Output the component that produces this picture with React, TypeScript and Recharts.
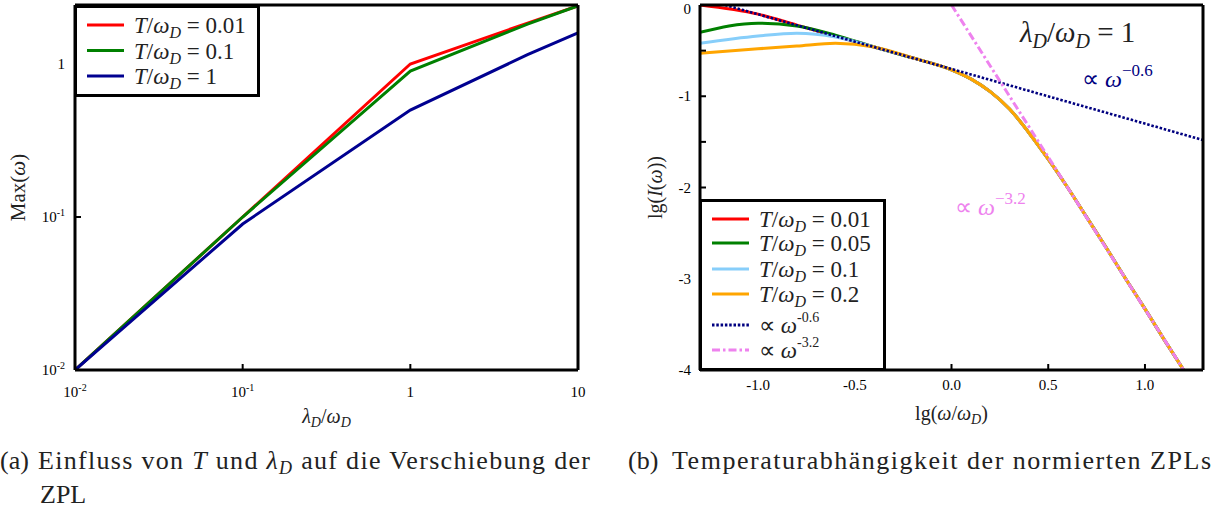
import React from 'react';
import { LineChart, Line, XAxis, YAxis, Legend, Label } from 'recharts';

const SERIF = '"Liberation Serif", "Times New Roman", serif';

// (a) position of the maximum vs. lambda_D / omega_D (log-log)
const lambdaRatio = [0.01, 0.1, 1, 5, 10];
const maxT001 = [0.01, 0.1, 1.0, 1.85, 2.4];
const maxT01 = [0.01, 0.1, 0.9, 1.82, 2.4];
const maxT1 = [0.01, 0.09, 0.5, 1.15, 1.6];
const leftXTicks = [0.01, 0.1, 1, 10];
const leftYTicks = [0.01, 0.1, 1];
const logTickValues = [0.01, 0.1, 1, 10];
const logTickBase = ['10', '10', '1', '10'];
const logTickExp = ['-2', '-1', '', ''];
const leftLegendValues = ['0.01', '0.1', '1'];
const leftColors = ['#ff0000', '#008000', '#000090'];

// (b) normalised ZPL, lg I over lg(omega/omega_D)
const lgOmegaHead = [-1.3, -1.0, -0.8, -0.6];
const lgIHeadT001 = [0.0, -0.1, -0.22, -0.34];
const lgIHeadT005 = [-0.3, -0.2, -0.23, -0.33];
const lgIHeadT01 = [-0.42, -0.34, -0.31, -0.35];
const lgIHeadT02 = [-0.53, -0.48, -0.45, -0.42];
const lgOmegaTail = [-0.4, -0.2, 0.0, 0.1, 0.2, 0.3, 0.4, 0.5, 0.6, 0.7, 0.8, 0.9, 1.0, 1.1, 1.2];
const lgITail = [-0.46, -0.58, -0.71, -0.81, -0.95, -1.14, -1.4, -1.69, -2.0, -2.33, -2.66, -3.0, -3.33, -3.67, -4.0];
const powLawSlowX = [-1.17, 1.3];
const powLawSlowY = [0, -1.48];
const powLawFastX = [0.0, 1.2];
const powLawFastY = [0, -4];
const rightLegendValues = ['0.01', '0.05', '0.1', '0.2'];
const rightColors = ['#ff0000', '#008000', '#87cefa', '#ffa500'];
const powLawExp = ['-0.6', '-3.2'];
const powLawColors = ['#000080', '#ee82ee'];
const rightXTicks = [-1, -0.5, 0, 0.5, 1];
const rightYTicks = [-4, -3.5, -3, -2.5, -2, -1.5, -1, -0.5, 0];

const toPoints = (xs: number[], ys: number[]) => xs.map((x, i) => ({ x, y: ys[i] }));

const LogTickX = ({ x, y, payload }: any) => {
  const i = logTickValues.indexOf(payload.value);
  return (
    <text x={x} y={y} textAnchor="middle" fontFamily={SERIF} fontSize={15} fill="#000">
      {logTickBase[i]}
      {logTickExp[i] && <tspan dy={-6} fontSize={10}>{logTickExp[i]}</tspan>}
    </text>
  );
};

const LogTickY = ({ x, y, payload }: any) => {
  const i = logTickValues.indexOf(payload.value);
  return (
    <text x={x} y={y + 5} textAnchor="end" fontFamily={SERIF} fontSize={15} fill="#000">
      {logTickBase[i]}
      {logTickExp[i] && <tspan dy={-6} fontSize={10}>{logTickExp[i]}</tspan>}
    </text>
  );
};

const LinTickX = ({ x, y, payload }: any) => (
  <text x={x} y={y} textAnchor="middle" fontFamily={SERIF} fontSize={15} fill="#000">
    {payload.value.toFixed(1)}
  </text>
);

const LinTickY = ({ x, y, payload }: any) =>
  Number.isInteger(payload.value) ? (
    <text x={x} y={y + 5} textAnchor="end" fontFamily={SERIF} fontSize={15} fill="#000">
      {String(payload.value)}
    </text>
  ) : (
    <g />
  );

const tLabel = (v: string) => (
  <>
    <tspan fontStyle="italic">T</tspan>
    <tspan>/</tspan>
    <tspan fontStyle="italic">ω</tspan>
    <tspan fontStyle="italic" fontSize={16} dy={5}>D</tspan>
    <tspan dy={-5}>{' = ' + v}</tspan>
  </>
);

const powLabel = (e: string) => (
  <>
    <tspan>{'∝ '}</tspan>
    <tspan fontStyle="italic">ω</tspan>
    <tspan fontSize={14} dy={-11}>{e}</tspan>
  </>
);

type Row = { color: string; dash?: string; label: React.ReactNode };

const LegendBox = ({ rows, width, height, rowY }: { rows: Row[]; width: number; height: number; rowY: number[] }) => (
  <svg width={width} height={height} style={{ display: 'block' }}>
    <rect x={1.5} y={1.5} width={width - 3} height={height - 3} fill="#fff" stroke="#000" strokeWidth={3} />
    {rows.map((r, i) => (
      <g key={i}>
        <line x1={13} x2={50} y1={rowY[i]} y2={rowY[i]} stroke={r.color} strokeWidth={3} strokeDasharray={r.dash} />
        <text x={60} y={rowY[i] + 8} fontFamily={SERIF} fontSize={23} fill="#222">
          {r.label}
        </text>
      </g>
    ))}
  </svg>
);

const frame = { stroke: '#000', strokeWidth: 3 };
const tickMark = { stroke: '#000', strokeWidth: 2 };

const App = () => {
  const leftData = lambdaRatio.map((l, i) => ({ l, t001: maxT001[i], t01: maxT01[i], t1: maxT1[i] }));
  const heads = [lgIHeadT001, lgIHeadT005, lgIHeadT01, lgIHeadT02];
  const rightSeries = heads.map((h, i) => ({
    key: rightLegendValues[i],
    color: rightColors[i],
    data: [...toPoints(lgOmegaHead, h), ...toPoints(lgOmegaTail, lgITail)],
  }));

  const leftRows: Row[] = leftLegendValues.map((v, i) => ({ color: leftColors[i], label: tLabel(v) }));
  const rightRows: Row[] = [
    ...rightLegendValues.map((v, i) => ({ color: rightColors[i], label: tLabel(v) })),
    { color: powLawColors[0], dash: '2.5 1.8', label: powLabel(powLawExp[0]) },
    { color: powLawColors[1], dash: '8 3 2.5 3', label: powLabel(powLawExp[1]) },
  ];

  return (
    <div style={{ position: 'absolute', left: 0, top: 0, width: 1213, height: 513, background: '#fff', overflow: 'hidden', fontFamily: SERIF }}>
      <div style={{ position: 'absolute', left: 0, top: 0 }}>
        <LineChart width={620} height={430} data={leftData} margin={{ top: 4, right: 41, bottom: 0, left: 0 }}>
          <XAxis dataKey="l" type="number" scale="log" domain={[0.01, 10]} ticks={leftXTicks} allowDataOverflow
            height={60} axisLine={frame} tickLine={tickMark} tickSize={-6} tickMargin={33} tick={(p: any) => <LogTickX {...p} />}>
            <Label content={(p: any) => (
              <text x={p.viewBox.x + p.viewBox.width / 2} y={p.viewBox.y + 53} textAnchor="middle" fontFamily={SERIF} fontSize={20} fill="#222">
                <tspan fontStyle="italic">λ</tspan>
                <tspan fontStyle="italic" fontSize={14} dy={4}>D</tspan>
                <tspan dy={-4}>/</tspan>
                <tspan fontStyle="italic">ω</tspan>
                <tspan fontStyle="italic" fontSize={14} dy={4}>D</tspan>
              </text>
            )} />
          </XAxis>
          <XAxis xAxisId="top" orientation="top" dataKey="l" type="number" scale="log" domain={[0.01, 10]} ticks={leftXTicks}
            allowDataOverflow height={1} axisLine={frame} tickLine={tickMark} tickSize={-6} tick={false} />
          <YAxis type="number" scale="log" domain={[0.01, 2.43]} ticks={leftYTicks} allowDataOverflow width={75}
            axisLine={frame} tickLine={tickMark} tickSize={-6} tickMargin={16} tick={(p: any) => <LogTickY {...p} />}>
            <Label content={(p: any) => {
              const cx = p.viewBox.x + 25;
              const cy = p.viewBox.y + p.viewBox.height / 2;
              return (
                <text x={cx} y={cy} transform={`rotate(-90, ${cx}, ${cy})`} textAnchor="middle" fontFamily={SERIF} fontSize={21} fill="#222">
                  Max(<tspan fontStyle="italic">ω</tspan>)
                </text>
              );
            }} />
          </YAxis>
          <YAxis yAxisId="right" orientation="right" type="number" scale="log" domain={[0.01, 2.43]} ticks={leftYTicks}
            allowDataOverflow width={1} axisLine={frame} tickLine={tickMark} tickSize={-6} tick={false} />
          <Line type="linear" dataKey="t001" stroke={leftColors[0]} strokeWidth={3} dot={false} isAnimationActive={false} />
          <Line type="linear" dataKey="t01" stroke={leftColors[1]} strokeWidth={3} dot={false} isAnimationActive={false} />
          <Line type="linear" dataKey="t1" stroke={leftColors[2]} strokeWidth={3} dot={false} isAnimationActive={false} />
          <Legend layout="vertical" align="center" verticalAlign="middle"
            wrapperStyle={{ left: 74, top: 5, width: 186, height: 92 }}
            content={() => <LegendBox rows={leftRows} width={186} height={92} rowY={[20, 45.5, 71]} />} />
        </LineChart>
      </div>

      <div style={{ position: 'absolute', left: 620, top: 0 }}>
        <LineChart width={593} height={430} margin={{ top: 4, right: 9, bottom: 0, left: 0 }}>
          <XAxis dataKey="x" type="number" domain={[-1.3, 1.3]} ticks={rightXTicks} allowDataOverflow
            height={60} axisLine={frame} tickLine={tickMark} tickSize={-6} tickMargin={26} tick={(p: any) => <LinTickX {...p} />}>
            <Label content={(p: any) => (
              <text x={p.viewBox.x + p.viewBox.width / 2} y={p.viewBox.y + 50} textAnchor="middle" fontFamily={SERIF} fontSize={20} fill="#222">
                <tspan>lg(</tspan>
                <tspan fontStyle="italic">ω</tspan>
                <tspan>/</tspan>
                <tspan fontStyle="italic">ω</tspan>
                <tspan fontStyle="italic" fontSize={14} dy={4}>D</tspan>
                <tspan dy={-4}>)</tspan>
              </text>
            )} />
          </XAxis>
          <XAxis xAxisId="top" orientation="top" dataKey="x" type="number" domain={[-1.3, 1.3]} ticks={rightXTicks}
            allowDataOverflow height={1} axisLine={frame} tickLine={tickMark} tickSize={-6} tick={false} />
          <YAxis dataKey="y" type="number" domain={[-4, 0]} ticks={rightYTicks} allowDataOverflow width={80}
            axisLine={frame} tickLine={tickMark} tickSize={-6} tickMargin={15} tick={(p: any) => <LinTickY {...p} />}>
            <Label content={(p: any) => {
              const cx = p.viewBox.x + 42;
              const cy = p.viewBox.y + p.viewBox.height / 2;
              return (
                <text x={cx} y={cy} transform={`rotate(-90, ${cx}, ${cy})`} textAnchor="middle" fontFamily={SERIF} fontSize={20} fill="#222">
                  lg(<tspan fontStyle="italic">I</tspan>(<tspan fontStyle="italic">ω</tspan>))
                </text>
              );
            }} />
          </YAxis>
          <YAxis yAxisId="right" orientation="right" type="number" domain={[-4, 0]} ticks={rightYTicks}
            allowDataOverflow width={1} axisLine={frame} tickLine={tickMark} tickSize={-6} tick={false} />
          {rightSeries.map((s) => (
            <Line key={s.key} data={s.data} type="monotone" dataKey="y" stroke={s.color} strokeWidth={3}
              dot={false} isAnimationActive={false} />
          ))}
          <Line data={toPoints(powLawSlowX, powLawSlowY)} type="linear" dataKey="y" stroke={powLawColors[0]} strokeWidth={2.6}
            strokeDasharray="2.5 1.8" dot={false} isAnimationActive={false} />
          <Line data={toPoints(powLawFastX, powLawFastY)} type="linear" dataKey="y" stroke={powLawColors[1]} strokeWidth={3}
            strokeDasharray="8 3 2.5 3" dot={false} isAnimationActive={false} />
          <Legend layout="vertical" align="center" verticalAlign="middle"
            wrapperStyle={{ left: 79, top: 199, width: 187, height: 172 }}
            content={() => <LegendBox rows={rightRows} width={187} height={172} rowY={[20, 44, 70, 95, 126, 151]} />} />
        </LineChart>
      </div>

      <svg width={1213} height={513} style={{ position: 'absolute', left: 0, top: 0, pointerEvents: 'none' }}>
        <text x={1020} y={42} fontFamily={SERIF} fontSize={29} fill="#222">
          <tspan fontStyle="italic">λ</tspan>
          <tspan fontStyle="italic" fontSize={20} dy={6}>D</tspan>
          <tspan dy={-6}>/</tspan>
          <tspan fontStyle="italic">ω</tspan>
          <tspan fontStyle="italic" fontSize={20} dy={6}>D</tspan>
          <tspan dy={-6}>{' = 1'}</tspan>
        </text>
        <text x={1082} y={87} fontFamily={SERIF} fontSize={24} fill={powLawColors[0]}>
          <tspan>{'∝ '}</tspan>
          <tspan fontStyle="italic">ω</tspan>
          <tspan fontSize={17} dy={-11}>−0.6</tspan>
        </text>
        <text x={955} y={215} fontFamily={SERIF} fontSize={24} fill={powLawColors[1]}>
          <tspan>{'∝ '}</tspan>
          <tspan fontStyle="italic">ω</tspan>
          <tspan fontSize={17} dy={-11}>−3.2</tspan>
        </text>

        <text x={0} y={469} fontFamily={SERIF} fontSize={26} fill="#222">(a)</text>
        <text x={38} y={469} fontFamily={SERIF} fontSize={26} fill="#222" textLength={552} lengthAdjust="spacing">
          <tspan>{'Einfluss von '}</tspan>
          <tspan fontStyle="italic">T</tspan>
          <tspan>{' und '}</tspan>
          <tspan fontStyle="italic">λ</tspan>
          <tspan fontStyle="italic" fontSize={18} dy={5}>D</tspan>
          <tspan dy={-5}>{' auf die Verschiebung der'}</tspan>
        </text>
        <text x={40} y={503} fontFamily={SERIF} fontSize={26} fill="#222">ZPL</text>
        <text x={628} y={469} fontFamily={SERIF} fontSize={26} fill="#222">(b)</text>
        <text x={672} y={469} fontFamily={SERIF} fontSize={26} fill="#222" textLength={539} lengthAdjust="spacing">
          Temperaturabhängigkeit der normierten ZPLs
        </text>
      </svg>
    </div>
  );
};

export default App;
